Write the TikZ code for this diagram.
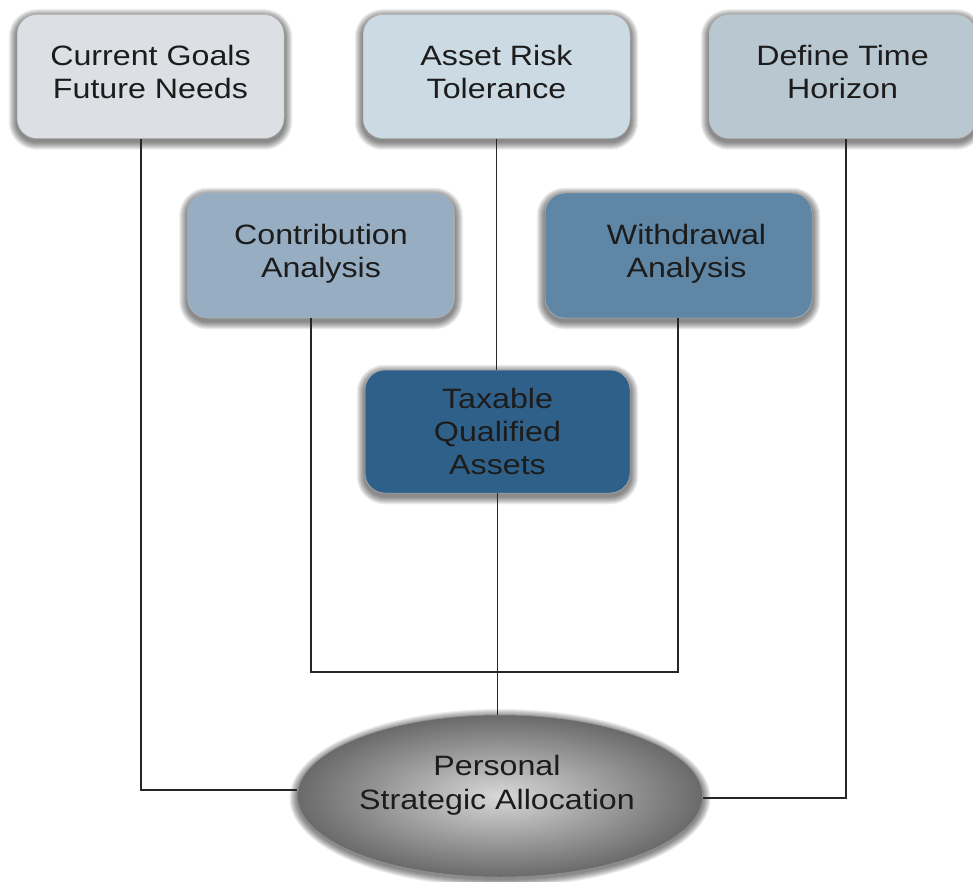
\documentclass[tikz,border=0pt]{standalone}
\usepackage{fontspec}
\setmainfont[FakeStretch=1.15]{Liberation Sans}
\usetikzlibrary{shapes.geometric,calc,backgrounds}
\definecolor{cA}{HTML}{DCE0E4}
\definecolor{cB}{HTML}{CCDAE4}
\definecolor{cC}{HTML}{B9C7D1}
\definecolor{cD}{HTML}{97AEC2}
\definecolor{cE}{HTML}{5F86A4}
\definecolor{cF}{HTML}{2F6089}
\definecolor{txt}{HTML}{1C1C1C}
\definecolor{elin}{HTML}{D8D8D8}
\definecolor{elout}{HTML}{6A6A6A}
\newcommand{\lowstrut}{\rule[-10pt]{0pt}{10pt}}
\begin{document}
\begin{tikzpicture}[x=1pt,y=1pt,
  box/.style={rectangle, rounded corners=20pt, minimum width=267pt, minimum height=124pt,
    draw=black!30, line width=0.5pt, font=\fontsize{28}{33}\selectfont, align=center, text=txt},
  ell/.style={ellipse, minimum width=405pt, minimum height=162pt, inner sep=0pt,
    draw=black!45, line width=0.5pt, inner color=elin, outer color=elout},
  lbl/.style={font=\fontsize{28}{34}\selectfont, align=center, text=txt},
  shadowlayer/.style={fill=black, opacity=0.07},
  link/.style={draw=black!85, line width=1.3pt}]
\useasboundingbox (0,0) rectangle (973,-882);

\node[box, fill=cA] (cg) at (150.5,-76.5) {Current Goals\\Future Needs\lowstrut};
\node[box, fill=cB] (ar) at (496.5,-76.5) {Asset Risk\\Tolerance\lowstrut};
\node[box, fill=cC] (dt) at (842.5,-76.5) {Define Time\\Horizon\lowstrut};
\node[box, fill=cD, minimum height=125pt] (ca) at (321,-255.5) {Contribution\\Analysis\lowstrut};
\node[box, fill=cE, minimum height=125pt] (wa) at (678.5,-255.5) {\hspace*{16pt}Withdrawal\\\hspace*{16pt}Analysis\lowstrut};
\node[box, fill=cF, minimum width=265pt, minimum height=123pt] (tq) at (497.5,-431.5) {Taxable\\Qualified\\Assets};
\node[ell] (psa) at (500,-796) {};
\node[lbl] (psat) at (497,-785) {Personal\\Strategic Allocation};

\begin{scope}[on background layer]
  \fill[white] (0,0) rectangle (973,-882);
  \foreach \n in {cg,ar,dt,ca,wa,tq}{
    \foreach \i in {1,...,8}{
      \fill[shadowlayer, rounded corners=20pt+\i pt]
        ($(\n.south west)+(-\i,-\i-3)$) rectangle ($(\n.north east)+(\i,\i-3)$);
    }
  }
  \foreach \i in {1,...,8}{
    \fill[shadowlayer] ($(psa.center)+(0,-2)$) ellipse ({202.5+\i} and {81+\i});
  }
\end{scope}

\coordinate (lc) at (141,-790);
\coordinate (rc) at (846,-798);
\coordinate (jl) at (311,-672);
\coordinate (jr) at (678,-672);

\draw[link] (cg.south -| lc) -- (lc) -- (lc -| psa.west);
\draw[link] (dt.south -| rc) -- (rc) -- (rc -| psa.east);
\draw[link] (ar.south) -- (ar.south |- tq.north);
\draw[link] (tq.south) -- (tq.south |- psa.north);
\draw[link] (ca.south -| jl) -- (jl) -- (jr) -- (wa.south -| jr);
\end{tikzpicture}
\end{document}
